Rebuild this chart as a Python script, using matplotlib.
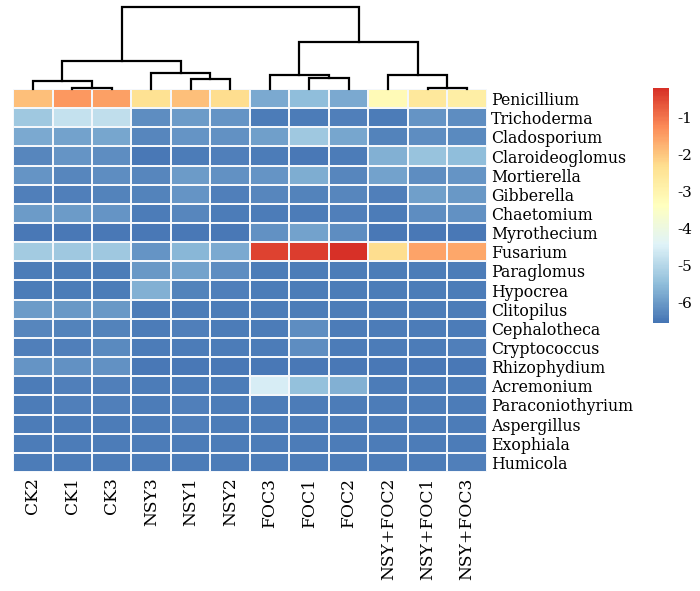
import matplotlib.pyplot as plt
import numpy as np
from matplotlib.colors import LinearSegmentedColormap

samples = ['CK2', 'CK1', 'CK3', 'NSY3', 'NSY1', 'NSY2', 'FOC3', 'FOC1', 'FOC2',
           'NSY+FOC2', 'NSY+FOC1', 'NSY+FOC3']
genera = ['Penicillium', 'Trichoderma', 'Cladosporium', 'Claroideoglomus', 'Mortierella',
          'Gibberella', 'Chaetomium', 'Myrothecium', 'Fusarium', 'Paraglomus', 'Hypocrea',
          'Clitopilus', 'Cephalotheca', 'Cryptococcus', 'Rhizophydium', 'Acremonium',
          'Paraconiothyrium', 'Aspergillus', 'Exophiala', 'Humicola']

# log10 relative abundance, rows = genera, cols = samples
values = np.array([
    [-1.9, -1.4, -1.5, -2.4, -1.9, -2.3, -5.8, -5.5, -5.8, -3.2, -2.6, -2.8],
    [-5.3, -4.8, -4.85, -6.2, -6.0, -6.1, -6.45, -6.45, -6.4, -6.45, -6.1, -6.2],
    [-5.8, -5.9, -5.85, -6.3, -6.1, -6.15, -5.95, -5.3, -5.85, -6.35, -6.2, -6.25],
    [-6.3, -6.1, -6.2, -6.5, -6.45, -6.4, -6.45, -6.5, -6.45, -5.7, -5.4, -5.5],
    [-6.1, -6.3, -6.2, -6.3, -6.0, -6.15, -6.1, -5.75, -6.3, -5.9, -6.2, -6.1],
    [-6.4, -6.4, -6.35, -6.35, -6.1, -6.4, -6.3, -6.35, -6.3, -6.4, -5.95, -6.05],
    [-6.0, -6.0, -6.1, -6.45, -6.3, -6.45, -6.45, -6.45, -6.4, -6.45, -6.2, -6.15],
    [-6.5, -6.5, -6.5, -6.5, -6.5, -6.5, -6.15, -5.9, -6.2, -6.5, -6.5, -6.5],
    [-5.25, -5.3, -5.3, -6.1, -5.6, -5.8, -0.4, -0.35, -0.2, -2.3, -1.55, -1.6],
    [-6.45, -6.45, -6.45, -6.05, -5.9, -6.2, -6.45, -6.45, -6.45, -6.45, -6.45, -6.45],
    [-6.45, -6.45, -6.45, -5.7, -6.35, -6.4, -6.45, -6.45, -6.45, -6.45, -6.45, -6.45],
    [-6.0, -6.05, -6.05, -6.45, -6.45, -6.45, -6.45, -6.45, -6.45, -6.45, -6.45, -6.45],
    [-6.3, -6.35, -6.35, -6.45, -6.4, -6.45, -6.45, -6.2, -6.45, -6.45, -6.45, -6.45],
    [-6.4, -6.4, -6.25, -6.45, -6.45, -6.45, -6.45, -6.2, -6.45, -6.45, -6.45, -6.4],
    [-6.1, -6.15, -6.15, -6.5, -6.5, -6.5, -6.5, -6.5, -6.5, -6.5, -6.5, -6.5],
    [-6.45, -6.4, -6.4, -6.45, -6.45, -6.45, -4.55, -5.45, -5.7, -6.45, -6.45, -6.45],
    [-6.45, -6.4, -6.4, -6.45, -6.4, -6.45, -6.45, -6.45, -6.45, -6.45, -6.45, -6.45],
    [-6.45, -6.45, -6.45, -6.45, -6.4, -6.45, -6.45, -6.45, -6.45, -6.45, -6.45, -6.45],
    [-6.45, -6.45, -6.45, -6.45, -6.45, -6.45, -6.45, -6.45, -6.45, -6.45, -6.45, -6.45],
    [-6.45, -6.45, -6.45, -6.45, -6.45, -6.45, -6.45, -6.45, -6.45, -6.45, -6.45, -6.4],
])

# column clustering: (left node, right node, height); leaves are 0..11, merges get 12, 13, ...
merges = [
    (1, 2, 1.7),     # 12 CK1+CK3
    (10, 11, 1.7),   # 13 NF1+NF3
    (0, 12, 8.3),    # 14 CK
    (4, 5, 9.7),     # 15 NSY1+NSY2
    (7, 8, 10.7),    # 16 FOC1+FOC2
    (3, 15, 16.0),   # 17 NSY
    (6, 16, 14.0),   # 18 FOC
    (9, 13, 14.0),   # 19 NSY+FOC
    (14, 17, 28.3),  # 20
    (18, 19, 47.3),  # 21
    (20, 21, 81.7),  # 22 root
]

vmin, vmax = -6.55, -0.2
cmap = LinearSegmentedColormap.from_list(
    'pheat', ['#4575B4', '#91BFDB', '#E0F3F8', '#FFFFBF', '#FEE090', '#FC8D59', '#D73027'])

plt.rcParams['font.family'] = ['DejaVu Serif']
plt.rcParams['axes.unicode_minus'] = False

fig = plt.figure(figsize=(7, 5.91), dpi=100)

ax = fig.add_axes([0.0186, 0.2014, 0.677, 0.648])
ax.pcolormesh(values, cmap=cmap, vmin=vmin, vmax=vmax, edgecolor='#f4f7fb', linewidth=1.2)
ax.set_xlim(0, len(samples))
ax.set_ylim(len(genera), 0)
for s in ax.spines.values():
    s.set_visible(False)
ax.set_xticks(np.arange(len(samples)) + 0.5)
ax.set_xticklabels(samples, rotation=90, fontsize=12.3)
ax.set_yticks(np.arange(len(genera)) + 0.5)
ax.set_yticklabels(genera, fontsize=11.3)
ax.get_yticklabels()[0].set_fontsize(12)
ax.yaxis.tick_right()
ax.tick_params(length=0, pad=4)
ax.tick_params(axis='y', pad=3)

# dendrogram
dax = fig.add_axes([0.0186, 0.849, 0.677, 0.139])
pos = {i: (i + 0.5, 0.0) for i in range(len(samples))}
node = len(samples)
for a, b, h in merges:
    xa, ha = pos[a]
    xb, hb = pos[b]
    dax.plot([xa, xa, xb, xb], [ha, h, h, hb], color='black', lw=1.6, clip_on=False,
             solid_joinstyle='miter')
    pos[node] = ((xa + xb) / 2, h)
    node += 1
dax.set_xlim(0, len(samples))
dax.set_ylim(0, 81.7)
dax.axis('off')

# colorbar
cax = fig.add_axes([0.933, 0.4535, 0.023, 0.398])
grad = np.linspace(vmin, vmax, 200).reshape(-1, 1)
cax.pcolormesh([0, 1], np.linspace(vmin, vmax, 201), grad, cmap=cmap, vmin=vmin, vmax=vmax)
cax.set_ylim(vmin, vmax)
cax.set_xticks([])
cax.yaxis.tick_right()
cax.set_yticks([-1, -2, -3, -4, -5, -6])
cax.tick_params(length=0, labelsize=11, pad=6)
for s in cax.spines.values():
    s.set_visible(False)

fig.savefig('out.png', dpi=100)
